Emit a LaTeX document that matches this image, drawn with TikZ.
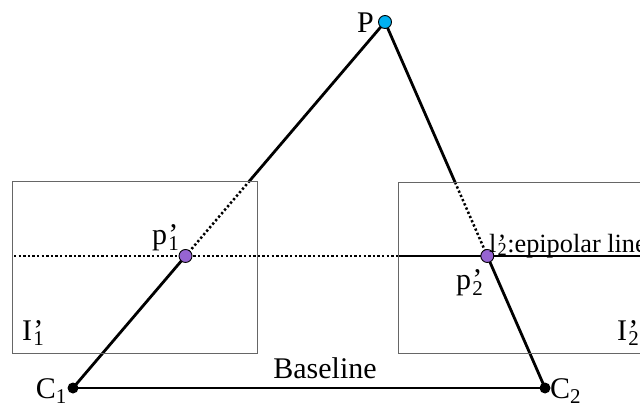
\documentclass[tikz,border=0pt]{standalone}
\usepackage{fontspec}
\setmainfont{Liberation Serif}
\usetikzlibrary{calc,backgrounds}
\definecolor{pcyan}{RGB}{0,176,240}
\definecolor{ppurple}{RGB}{150,100,210}
\newcommand{\prm}[2]{#1\kern0.04em\rlap{’}\textsubscript{#2}}
\begin{document}
\begin{tikzpicture}[x=1pt,y=-1pt,
  thickline/.style={line width=2.8pt},
  dotline/.style={line width=2.5pt, dash pattern=on 2.3pt off 2.3pt},
  frame/.style={draw=black!60, line width=1pt},
  bigdot/.style={circle, inner sep=0pt, minimum size=13pt, draw=black, line width=0.9pt},
  blackdot/.style={circle, fill=black, inner sep=0pt, minimum size=11pt},
  lab/.style={font=\fontsize{30}{32}\selectfont, inner sep=0pt}]
\useasboundingbox (0,0) rectangle (640,406);
\clip (0,0) rectangle (640,406);
% image frames
\draw[frame] (12,182) rectangle (257,353);
\draw[frame] (398,183) rectangle (660,353);
% points
\node[blackdot] (C1) at (73,388) {};
\node[blackdot] (C2) at (545,388) {};
\node[bigdot, fill=pcyan] (P) at (385,22) {};
\node[bigdot, fill=ppurple] (p1) at ($(C1.center)!0.3607!(P.center)$) {};
\node[bigdot, fill=ppurple] (p2) at ($(C2.center)!0.3607!(P.center)$) {};
\coordinate (t1) at ($(C1.center)!0.5628!(P.center)$);
\coordinate (t2) at ($(C2.center)!0.5601!(P.center)$);
\coordinate (hl) at (14,256);
\coordinate (hm) at (398,256);
\coordinate (hr) at (650,256);
% connectors
\begin{scope}[on background layer]
\draw[thickline] (C1.center) -- (C2.center);
\draw[thickline] (C1.center) -- (p1.center);
\draw[dotline] (p1.center) -- (t1);
\draw[thickline] (t1) -- (P.center);
\draw[thickline] (C2.center) -- (p2.center);
\draw[dotline] (p2.center) -- (t2);
\draw[thickline] (t2) -- (P.center);
\draw[dotline] (hl) -- (hm);
\draw[thickline] (hm) -- (hr);
\end{scope}
% labels
\node[lab, anchor=base east] (Pl) at (374,33) {P};
\node[lab, anchor=base east] (C1l) at (67,398) {C\textsubscript{1}};
\node[lab, anchor=base west] (C2l) at (550,398) {C\textsubscript{2}};
\node[lab, anchor=base] (bl) at (325,378) {Baseline};
\node[lab, anchor=base west] (p1l) at (152,245) {\prm{p}{1}};
\node[lab, anchor=base west] (p2l) at (456,290) {\prm{p}{2}};
\node[lab, anchor=base west] (I1l) at (22,340) {\prm{I}{1}};
\node[lab, anchor=base west] (I2l) at (617,340) {\prm{I}{2}};
\node[font=\fontsize{26.3}{28}\selectfont, anchor=base west, inner sep=0pt] (epi) at (489,252) {\prm{l}{2}:epipolar line};
\end{tikzpicture}
\end{document}
